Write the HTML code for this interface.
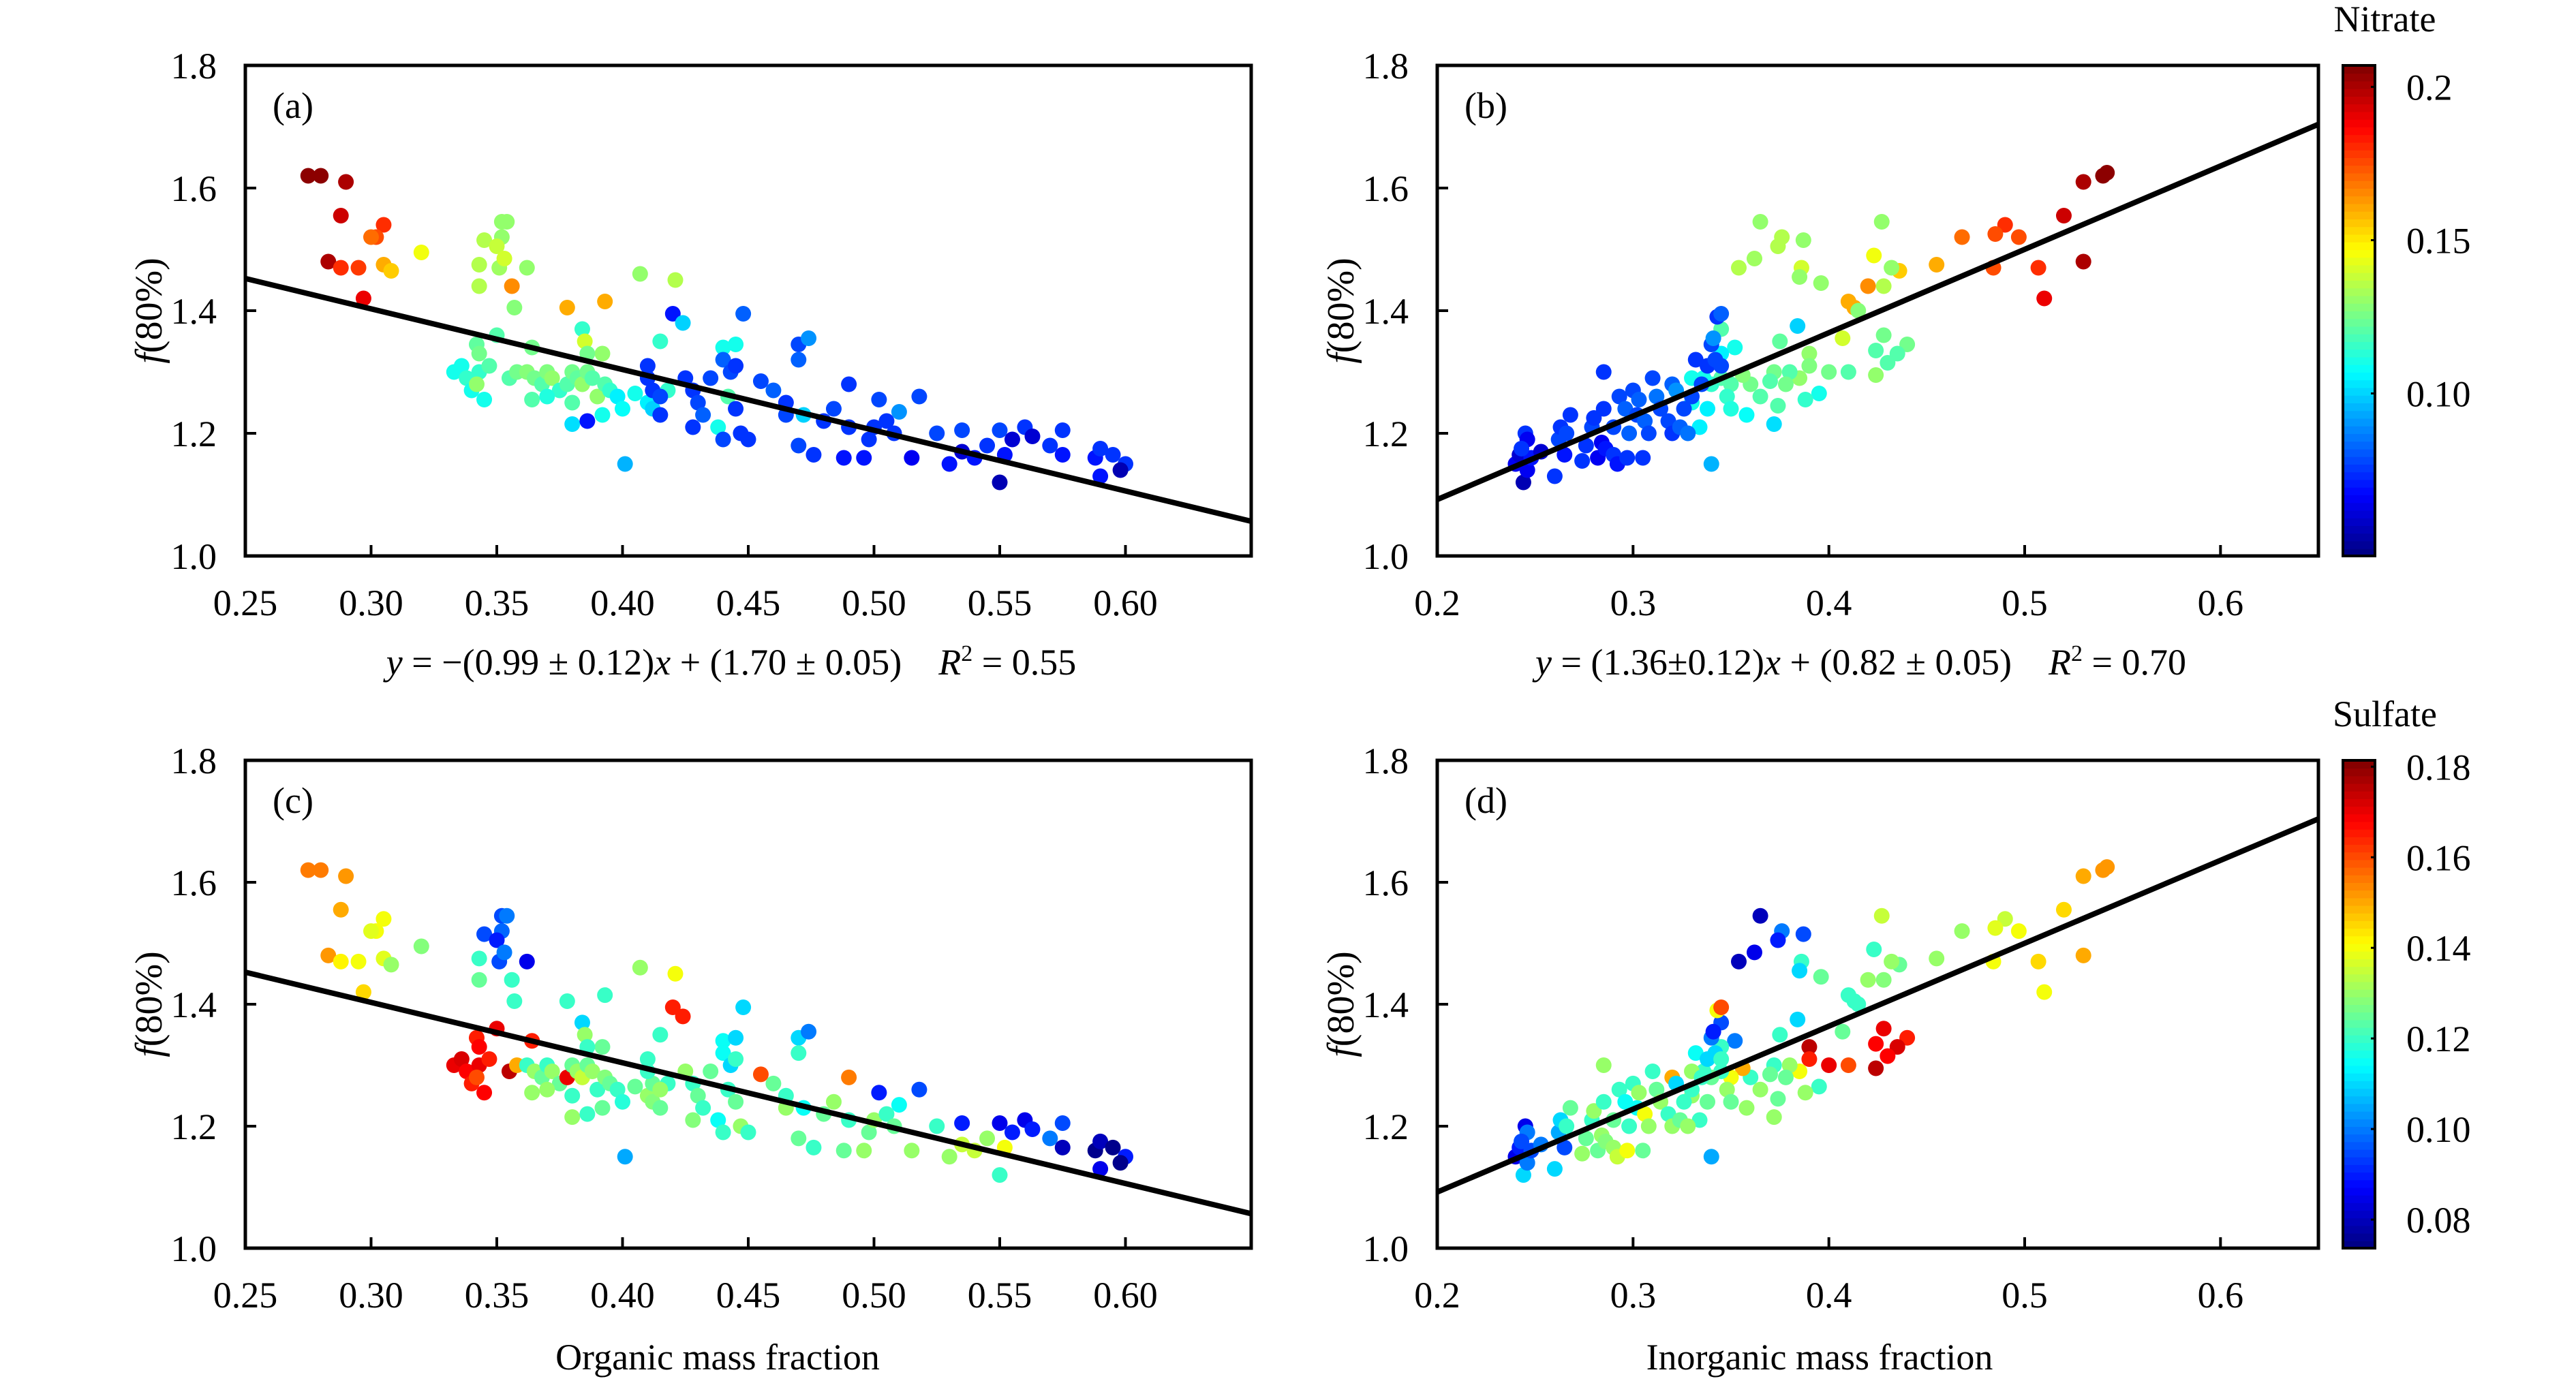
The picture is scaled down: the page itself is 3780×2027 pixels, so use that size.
<!DOCTYPE html>
<html><head><meta charset="utf-8"><style>
html,body{margin:0;padding:0;background:#fff;}
svg{display:block;}
svg text{font-family:"Liberation Serif","Times New Roman",serif;white-space:pre;}
</style></head><body>
<svg id="fig" width="3780" height="2027" viewBox="0 0 3780 2027" xmlns="http://www.w3.org/2000/svg"></svg>
<script>
// ---- data: organic fraction panel (a)/(c)
const orgX=[0.275,0.28,0.29,0.288,0.283,0.297,0.305,0.302,0.300,0.288,0.295,0.305,0.308,0.32,0.356,0.378,0.393,
0.352,0.354,0.345,0.352,0.35,0.343,0.351,0.353,0.362,0.343,0.357,0.407,0.421,
0.35,0.342,0.343,0.364,0.384,0.385,0.392,0.386,0.415,0.44,0.445,
0.333,0.336,0.338,0.34,0.343,0.347,0.342,0.345,0.355,0.358,0.362,0.365,0.368,0.364,0.37,0.372,0.375,0.378,0.38,0.382,0.384,0.386,0.388,0.39,0.393,0.395,0.38,0.37,0.398,0.40,0.392,0.38,0.386,0.401,0.405,0.41,0.412,0.418,0.42,0.424,
0.41,0.412,0.415,0.41,0.415,0.425,0.428,0.43,0.428,0.432,0.435,0.44,0.443,0.445,0.448,0.442,0.445,0.447,0.45,0.438,0.44,0.455,0.46,0.465,0.465,0.47,0.474,0.47,0.47,0.472,0.476,0.48,0.484,0.488,0.49,0.49,0.496,0.498,0.5,0.502,0.505,0.508,0.51,0.515,0.518,0.525,0.53,0.535,0.535,0.54,0.545,0.55,0.55,0.555,0.552,0.56,0.563,0.57,0.575,0.575,0.588,0.59,0.59,0.595,0.6,0.598];
const orgF=[1.62,1.62,1.61,1.555,1.48,1.42,1.54,1.52,1.52,1.47,1.47,1.475,1.465,1.495,1.44,1.405,1.415,
1.545,1.545,1.515,1.52,1.505,1.475,1.47,1.485,1.47,1.44,1.405,1.46,1.45,
1.36,1.345,1.33,1.34,1.37,1.35,1.33,1.33,1.35,1.34,1.345,
1.3,1.31,1.29,1.27,1.3,1.31,1.28,1.255,1.29,1.3,1.3,1.29,1.28,1.255,1.3,1.29,1.27,1.28,1.3,1.29,1.28,1.3,1.29,1.26,1.28,1.27,1.25,1.26,1.26,1.24,1.23,1.215,1.22,1.15,1.265,1.25,1.24,1.27,1.395,1.38,
1.31,1.27,1.26,1.29,1.23,1.29,1.27,1.25,1.21,1.23,1.29,1.32,1.3,1.31,1.395,1.26,1.24,1.2,1.19,1.21,1.19,1.285,1.27,1.25,1.23,1.345,1.355,1.32,1.18,1.23,1.165,1.22,1.24,1.16,1.21,1.28,1.16,1.19,1.21,1.255,1.22,1.2,1.235,1.16,1.26,1.2,1.15,1.17,1.205,1.16,1.18,1.12,1.205,1.19,1.165,1.21,1.195,1.18,1.205,1.165,1.16,1.175,1.13,1.165,1.15,1.14];
const orgNitrate=[0.205,0.205,0.2,0.195,0.2,0.19,0.18,0.175,0.17,0.18,0.178,0.16,0.155,0.145,0.165,0.16,0.16,
0.13,0.13,0.135,0.13,0.138,0.135,0.132,0.14,0.13,0.135,0.128,0.13,0.135,
0.12,0.122,0.125,0.125,0.115,0.14,0.13,0.125,0.115,0.11,0.11,
0.11,0.11,0.115,0.11,0.115,0.12,0.13,0.11,0.12,0.125,0.128,0.125,0.12,0.12,0.127,0.13,0.115,0.12,0.125,0.122,0.13,0.125,0.12,0.13,0.12,0.115,0.12,0.112,0.105,0.108,0.11,0.102,0.07,0.095,0.11,0.105,0.1,0.115,0.07,0.1,
0.075,0.075,0.078,0.075,0.075,0.075,0.075,0.078,0.075,0.082,0.078,0.082,0.078,0.075,0.082,0.12,0.075,0.075,0.075,0.11,0.078,0.078,0.082,0.075,0.078,0.078,0.09,0.082,0.078,0.1,0.075,0.075,0.078,0.07,0.075,0.075,0.07,0.075,0.075,0.078,0.075,0.075,0.09,0.065,0.078,0.078,0.07,0.06,0.078,0.07,0.075,0.055,0.078,0.06,0.07,0.075,0.06,0.075,0.075,0.07,0.07,0.075,0.07,0.075,0.075,0.055];
const orgSulfate=[0.155,0.155,0.152,0.15,0.152,0.145,0.14,0.14,0.138,0.142,0.14,0.138,0.13,0.128,0.12,0.12,0.12,
0.095,0.1,0.095,0.098,0.09,0.12,0.095,0.1,0.085,0.125,0.12,0.13,0.14,
0.17,0.165,0.168,0.165,0.11,0.13,0.125,0.12,0.12,0.115,0.11,
0.17,0.172,0.168,0.165,0.17,0.165,0.16,0.168,0.175,0.15,0.12,0.13,0.125,0.13,0.12,0.13,0.125,0.17,0.125,0.13,0.135,0.125,0.13,0.12,0.128,0.125,0.12,0.13,0.12,0.118,0.125,0.13,0.12,0.105,0.125,0.13,0.128,0.12,0.165,0.165,
0.12,0.125,0.13,0.12,0.125,0.13,0.12,0.125,0.128,0.12,0.125,0.115,0.11,0.12,0.11,0.12,0.125,0.13,0.12,0.115,0.12,0.16,0.125,0.12,0.13,0.11,0.1,0.12,0.125,0.115,0.12,0.125,0.13,0.125,0.12,0.155,0.13,0.125,0.13,0.09,0.12,0.125,0.115,0.13,0.095,0.12,0.13,0.135,0.09,0.135,0.13,0.12,0.085,0.09,0.14,0.085,0.09,0.1,0.095,0.08,0.075,0.08,0.085,0.075,0.09,0.075];
// ---- data: inorganic fraction panel (b)/(d)
const inoX=[0.54,0.542,0.53,0.52,0.53,0.51,0.49,0.485,0.497,0.468,0.484,0.507,0.455,0.436,0.423,0.42,0.41,0.413,
0.365,0.427,0.376,0.387,0.374,0.362,0.354,0.386,0.385,0.396,0.428,0.432,0.415,
0.345,0.375,0.407,0.428,0.44,0.435,0.39,0.424,0.43,0.424,0.41,0.4,0.39,0.385,0.38,0.378,0.372,0.37,0.365,0.36,0.356,0.35,0.348,0.345,0.34,0.336,0.33,0.35,0.352,0.345,0.358,0.374,0.372,0.395,0.388,0.384,0.334,0.34,0.338,0.33,
0.24,0.242,0.244,0.246,0.248,0.245,0.246,0.243,0.253,0.26,0.262,0.263,0.265,0.268,0.266,0.274,0.276,0.279,0.28,0.282,0.284,0.286,0.285,0.285,0.29,0.29,0.292,0.293,0.296,0.298,0.297,0.3,0.302,0.303,0.305,0.306,0.308,0.31,0.312,0.314,0.318,0.32,0.32,0.322,0.324,0.326,0.328,0.33,0.332,0.335,0.338,0.34,0.341,0.343,0.345,0.342,0.345];
const inoF=[1.62,1.625,1.61,1.555,1.48,1.42,1.54,1.525,1.52,1.52,1.47,1.47,1.475,1.465,1.49,1.44,1.415,1.405,
1.545,1.545,1.52,1.515,1.505,1.485,1.47,1.47,1.455,1.445,1.44,1.47,1.40,
1.37,1.35,1.355,1.36,1.345,1.33,1.33,1.335,1.315,1.295,1.3,1.3,1.31,1.29,1.3,1.28,1.3,1.285,1.26,1.28,1.295,1.28,1.26,1.29,1.28,1.29,1.25,1.24,1.34,1.33,1.23,1.245,1.215,1.265,1.255,1.375,1.21,1.15,1.24,1.29,
1.15,1.165,1.12,1.14,1.16,1.2,1.19,1.175,1.17,1.13,1.19,1.21,1.165,1.23,1.2,1.155,1.18,1.21,1.225,1.16,1.185,1.175,1.24,1.3,1.21,1.165,1.15,1.26,1.24,1.2,1.16,1.27,1.23,1.255,1.16,1.22,1.2,1.29,1.26,1.24,1.22,1.28,1.2,1.27,1.21,1.24,1.2,1.26,1.32,1.28,1.31,1.345,1.355,1.39,1.395,1.32,1.31];
const inoNitrate=[0.205,0.205,0.2,0.195,0.2,0.19,0.18,0.175,0.175,0.17,0.175,0.18,0.16,0.155,0.145,0.165,0.16,0.16,
0.13,0.13,0.135,0.13,0.135,0.132,0.135,0.14,0.13,0.13,0.135,0.13,0.128,
0.12,0.122,0.14,0.125,0.125,0.12,0.13,0.12,0.12,0.13,0.12,0.125,0.127,0.13,0.12,0.125,0.125,0.12,0.12,0.125,0.128,0.12,0.115,0.12,0.115,0.11,0.11,0.112,0.11,0.105,0.108,0.12,0.102,0.11,0.115,0.1,0.105,0.095,0.105,0.11,
0.065,0.06,0.055,0.065,0.07,0.075,0.065,0.075,0.06,0.075,0.078,0.075,0.07,0.075,0.078,0.075,0.075,0.078,0.075,0.065,0.065,0.07,0.075,0.075,0.078,0.075,0.07,0.078,0.082,0.082,0.075,0.078,0.078,0.082,0.075,0.082,0.078,0.078,0.085,0.078,0.078,0.082,0.075,0.09,0.082,0.078,0.085,0.078,0.075,0.078,0.075,0.078,0.09,0.075,0.082,0.078,0.078];
const inoSulfate=[0.152,0.152,0.15,0.145,0.15,0.14,0.135,0.138,0.14,0.13,0.14,0.145,0.13,0.125,0.12,0.13,0.12,0.12,
0.08,0.135,0.1,0.095,0.09,0.085,0.08,0.12,0.11,0.125,0.128,0.13,0.12,
0.095,0.12,0.125,0.17,0.165,0.172,0.175,0.168,0.168,0.175,0.16,0.17,0.165,0.14,0.13,0.125,0.12,0.125,0.13,0.12,0.15,0.14,0.13,0.12,0.125,0.12,0.13,0.125,0.1,0.12,0.13,0.125,0.13,0.12,0.13,0.11,0.12,0.105,0.125,0.13,
0.085,0.09,0.11,0.1,0.095,0.085,0.1,0.095,0.1,0.11,0.105,0.11,0.095,0.125,0.12,0.13,0.125,0.12,0.13,0.125,0.13,0.128,0.12,0.13,0.125,0.13,0.135,0.12,0.115,0.12,0.14,0.12,0.115,0.13,0.125,0.14,0.13,0.12,0.125,0.13,0.12,0.15,0.13,0.11,0.125,0.12,0.13,0.12,0.115,0.12,0.11,0.1,0.09,0.14,0.16,0.11,0.12];
// fit lines [slope, intercept]
const fitOrg=[-0.99,1.70];
const fitIno=[1.36,0.82];
const yTicks=[1.0,1.2,1.4,1.6,1.8];
const yTickLabels=["1.0","1.2","1.4","1.6","1.8"];
const orgTicks=[0.25,0.30,0.35,0.40,0.45,0.50,0.55,0.60];
const orgTickLabels=["0.25","0.30","0.35","0.40","0.45","0.50","0.55","0.60"];
const inoTicks=[0.2,0.3,0.4,0.5,0.6];
const inoTickLabels=["0.2","0.3","0.4","0.5","0.6"];
const nitrateTicks=[0.10,0.15,0.2];
const nitrateTickLabels=["0.10","0.15","0.2"];
const sulfateTicks=[0.08,0.10,0.12,0.14,0.16,0.18];
const sulfateTickLabels=["0.08","0.10","0.12","0.14","0.16","0.18"];

const NS="http://www.w3.org/2000/svg";
const svg=document.getElementById('fig');
const FONT='"Liberation Serif","Times New Roman",serif';
function mk(tag,attrs,parent,text){const e=document.createElementNS(NS,tag);for(const k in attrs)e.setAttribute(k,attrs[k]);if(tag==='text')e.setAttribute('font-family',FONT);if(text!==undefined)e.textContent=text;(parent||svg).appendChild(e);return e;}
function jet(t){t=Math.max(0,Math.min(1,t));
 const r=Math.max(0,Math.min(1,Math.min(4*t-1.5,-4*t+4.5)));
 const g=Math.max(0,Math.min(1,Math.min(4*t-0.5,-4*t+3.5)));
 const b=Math.max(0,Math.min(1,Math.min(4*t+0.5,-4*t+2.5)));
 return `rgb(${Math.round(r*255)},${Math.round(g*255)},${Math.round(b*255)})`;}

function panel(name,box,xmin,xmax,xt,xtl,xs,fs,cs,cmin,cmax,fit,label,eq){
 const g=mk('g',{});
 
 
 const X=v=>box.x+(v-xmin)/(xmax-xmin)*box.w;
 const Y=v=>box.y+box.h-(v-1.0)/0.8*box.h;
 const pg=mk('g',{},g);
 
 
 for(let i=0;i<xs.length;i++){
  const c=mk('circle',{cx:X(xs[i]),cy:Y(fs[i]),r:11.5,fill:jet((cs[i]-cmin)/(cmax-cmin))},pg);
  
  
 }
 const ln=mk('line',{x1:X(xmin),y1:Y(fit[0]*xmin+fit[1]),x2:X(xmax),y2:Y(fit[0]*xmax+fit[1]),stroke:'#000','stroke-width':8},g);
 
 
 const fr=mk('rect',{x:box.x,y:box.y,width:box.w,height:box.h,fill:'none',stroke:'#000','stroke-width':5},g);
 
 
 for(let i=0;i<yTicks.length;i++){
  const y=Y(yTicks[i]);
  if(i>0&&i<yTicks.length-1) mk('line',{x1:box.x,x2:box.x+16,y1:y,y2:y,stroke:'#000','stroke-width':4},g);
  const t=mk('text',{x:box.x-42,y:y+19,'text-anchor':'end','font-size':54},g,yTickLabels[i]);
  
  
 }
 for(let i=0;i<xt.length;i++){
  const x=X(xt[i]);
  if(xt[i]>xmin+1e-9) mk('line',{x1:x,x2:x,y1:box.y+box.h,y2:box.y+box.h-16,stroke:'#000','stroke-width':4},g);
  const t=mk('text',{x:x,y:box.y+box.h+87,'text-anchor':'middle','font-size':54},g,xtl[i]);
  
  
 }
 const pl=mk('text',{x:box.x+40,y:box.y+77,'font-size':54},g,label);
 
 
 const yl=mk('text',{transform:`translate(${box.x-123},${box.y+box.h/2}) rotate(-90)`,'text-anchor':'middle','font-size':56},g);
 
 
 yl.innerHTML='<tspan font-style="italic">f</tspan>(80%)';
 if(eq){const e=mk('text',{x:box.x+box.w/2-25,y:box.y+box.h+174,'text-anchor':'middle','font-size':54},g);
  
  
  e.innerHTML=eq;}
}
function colorbar(name,x,y,w,h,cmin,cmax,ticks,tl,title){
 const g=mk('g',{});
 
 
 const n=64;
 for(let i=0;i<n;i++){mk('rect',{x:x,y:y+h-(i+1)*h/n,width:w,height:h/n+1,fill:jet((i+0.5)/n)},g);}
 mk('rect',{x:x,y:y,width:w,height:h,fill:'none',stroke:'#000','stroke-width':4},g);
 for(let i=0;i<ticks.length;i++){
  const ty=y+h-(ticks[i]-cmin)/(cmax-cmin)*h;
  mk('line',{x1:x+w-6,x2:x+w,y1:ty,y2:ty,stroke:'#000','stroke-width':3},g);
  const t=mk('text',{x:x+w+46,y:ty+19,'font-size':54},g,tl[i]);
  
  
 }
 const tt=mk('text',{x:x+w/2+38,y:y-50,'text-anchor':'middle','font-size':54},g,title);
 
 
}
const eqA='<tspan font-style="italic">y</tspan> = −(0.99 ± 0.12)<tspan font-style="italic">x</tspan> + (1.70 ± 0.05)    <tspan font-style="italic">R</tspan><tspan font-size="34" dy="-20">2</tspan><tspan dy="20"> = 0.55</tspan>';
const eqB='<tspan font-style="italic">y</tspan> = (1.36±0.12)<tspan font-style="italic">x</tspan> + (0.82 ± 0.05)    <tspan font-style="italic">R</tspan><tspan font-size="34" dy="-20">2</tspan><tspan dy="20"> = 0.70</tspan>';
const NMIN=0.047,NMAX=0.207,SMIN=0.0737,SMAX=0.1814;
panel('panel-a',{x:360,y:96,w:1476,h:720},0.25,0.65,orgTicks,orgTickLabels,orgX,orgF,orgNitrate,NMIN,NMAX,fitOrg,'(a)',eqA);
panel('panel-b',{x:2109,y:96,w:1293,h:720},0.2,0.65,inoTicks,inoTickLabels,inoX,inoF,inoNitrate,NMIN,NMAX,fitIno,'(b)',eqB);
panel('panel-c',{x:360,y:1116,w:1476,h:716},0.25,0.65,orgTicks,orgTickLabels,orgX,orgF,orgSulfate,SMIN,SMAX,fitOrg,'(c)',null);
panel('panel-d',{x:2109,y:1116,w:1293,h:716},0.2,0.65,inoTicks,inoTickLabels,inoX,inoF,inoSulfate,SMIN,SMAX,fitIno,'(d)',null);
colorbar('nitrate-colorbar',3438,96,47,720,NMIN,NMAX,nitrateTicks,nitrateTickLabels,'Nitrate');
colorbar('sulfate-colorbar',3438,1116,47,716,SMIN,SMAX,sulfateTicks,sulfateTickLabels,'Sulfate');
const xa=mk('text',{x:1053,y:2010,'text-anchor':'middle','font-size':54},svg,'Organic mass fraction');


const xb=mk('text',{x:2670,y:2010,'text-anchor':'middle','font-size':54},svg,'Inorganic mass fraction');


</script>
</body></html>
